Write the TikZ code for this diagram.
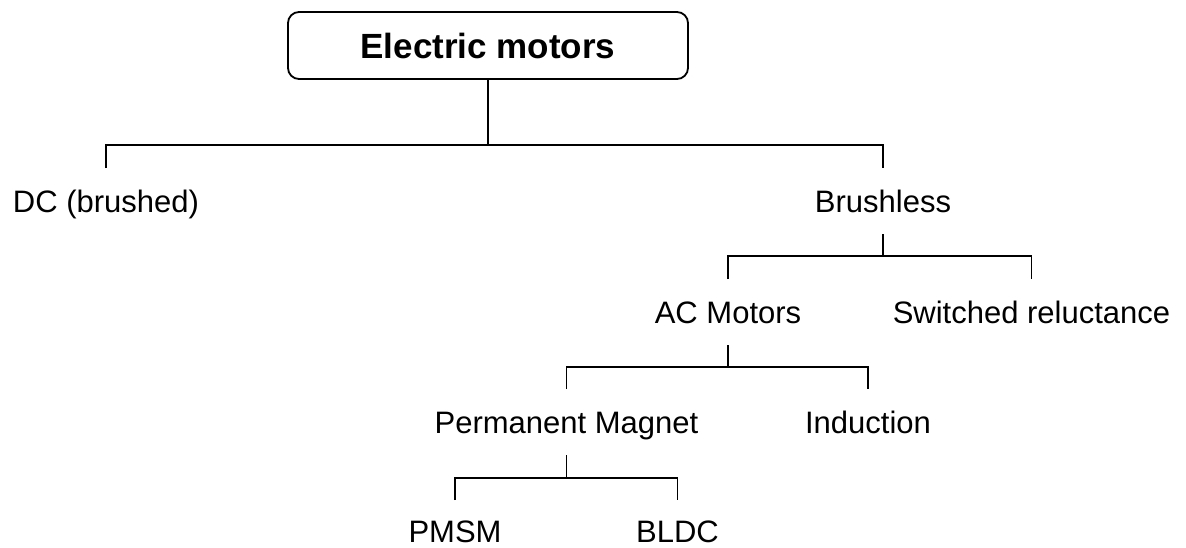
\documentclass[tikz,border=0pt]{standalone}
\usepackage{fontspec}
\setmainfont{Liberation Sans}
\begin{document}
\begin{tikzpicture}[x=1pt,y=-1pt,
  conn/.style={draw=black, line width=1.8pt},
  leaf/.style={anchor=base, inner sep=0pt, outer xsep=0pt, outer ysep=22pt,
    text height=22pt, text depth=0pt, font=\fontsize{31}{37}\selectfont},
  lowleaf/.style={leaf, outer ysep=0pt},
  rootbox/.style={draw=black, line width=1.8pt, rounded corners=11pt,
    minimum width=400pt, minimum height=67pt, inner sep=0pt,
    font=\fontsize{35}{42}\selectfont\bfseries}]
\useasboundingbox (0,0) rectangle (1186,547);
\node[rootbox] (root) at (488,45.5) {Electric motors};
\node[leaf] (dc) at (106,212) {DC (brushed)};
\node[leaf] (br) at (883,212) {Brushless};
\node[leaf] (ac) at (728,323) {AC Motors};
\node[leaf] (sr) at (1031.5,323) {Switched reluctance};
\node[leaf] (pm) at (566.5,433) {Permanent Magnet};
\node[leaf] (in) at (868,433) {Induction};
\node[lowleaf] (pmsm) at (455,542) {PMSM};
\node[lowleaf] (bldc) at (677.5,542) {BLDC};
\coordinate (j1) at (488,145);
\coordinate (j2) at (883,256);
\coordinate (j3) at (728,367);
\coordinate (j4) at (566.5,478);
\draw[conn] (root.south) -- (j1);
\draw[conn] (dc.north) |- (j1) -| (br.north);
\draw[conn] (br.south) -- (j2);
\draw[conn] (ac.north) |- (j2) -| (sr.north);
\draw[conn] (ac.south) -- (j3);
\draw[conn] (pm.north) |- (j3) -| (in.north);
\draw[conn] (pm.south) -- (j4);
\draw[conn, shorten <=20pt] (pmsm.north) |- (j4);
\draw[conn, shorten >=20pt] (j4) -| (bldc.north);
\end{tikzpicture}
\end{document}
